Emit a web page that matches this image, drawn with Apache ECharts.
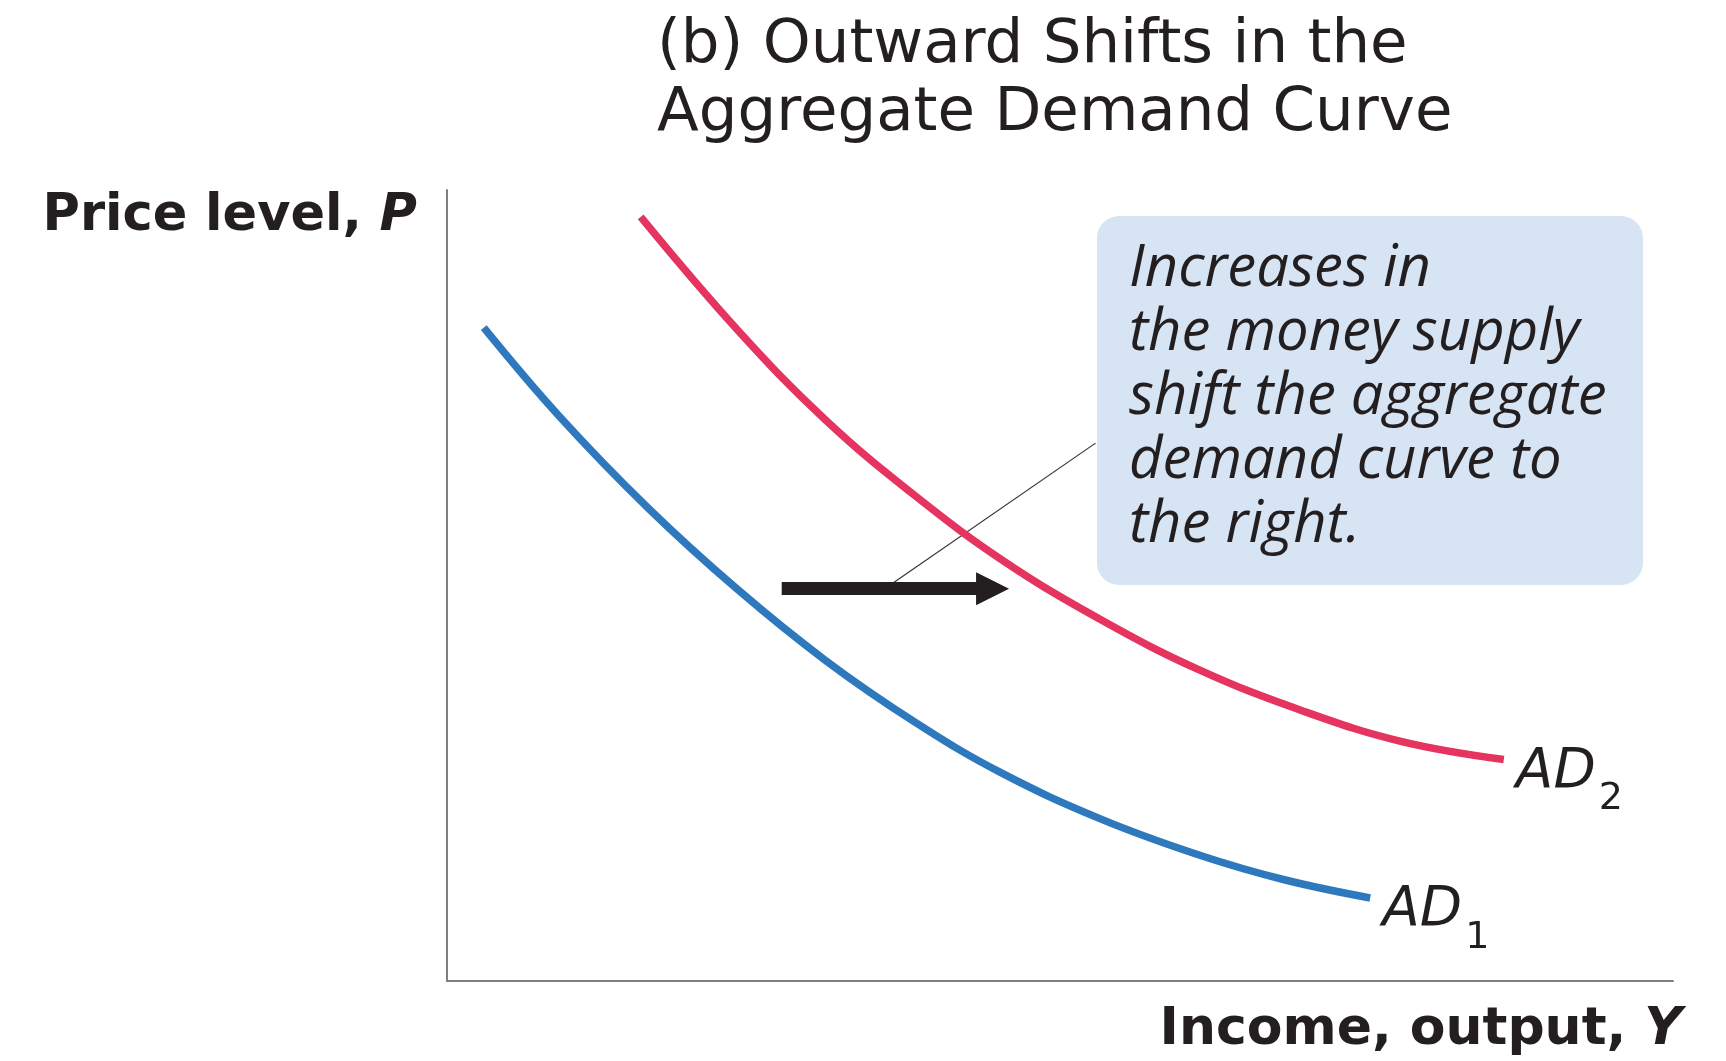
<!DOCTYPE html>
<html>
<head>
  <meta charset="UTF-8">
  <title>Outward Shifts in the Aggregate Demand Curve</title>
  <script src="https://cdn.jsdelivr.net/npm/echarts@6/dist/echarts.min.js"></script>
  <style>
    html, body { margin: 0; padding: 0; background: #fff; }
    #main { width: 1726px; height: 1061px; }
  </style>
</head>
<body>
<div id="main"></div>
<script>
  // AD1 (blue) - income Y and price level P, axes run 0..100
  var ad1Y = [3.0, 9.1, 16.4, 23.7, 30.9, 38.2, 45.1, 53.3, 61.4, 68.3, 75.3];
  var ad1P = [82.6, 71.5, 59.8, 49.5, 40.5, 32.7, 26.4, 20.5, 15.9, 12.8, 10.5];

  // AD2 (red) - after the increase in the money supply
  var ad2Y = [15.8, 23.7, 30.9, 38.3, 45.5, 53.3, 61.4, 69.7, 77.8, 86.2];
  var ad2P = [96.6, 82.3, 70.9, 61.2, 53.0, 45.7, 39.3, 34.2, 30.3, 28.0];

  // shift arrow and the thin leader line to the note
  var shiftArrow = [[27.3, 49.6], [44.5, 49.6]];
  var leaderLine = [[35.7, 49.6], [52.9, 68.0]];

  var noteLines = ['Increases in', 'the money supply', 'shift the aggregate', 'demand curve to', 'the right.'];

  function pairs(xs, ys) {
    var out = [];
    for (var i = 0; i < xs.length; i++) out.push([xs[i], ys[i]]);
    return out;
  }

  var SANS = '"DejaVu Sans", "Open Sans", sans-serif';
  var ITAL = '"Open Sans", "DejaVu Sans", sans-serif';

  function adLabel(sub) {
    return {
      show: true,
      formatter: 'AD{s|' + sub + '}',
      offset: [4, 13],
      fontFamily: SANS,
      fontStyle: 'italic',
      fontSize: 55,
      color: '#231f20',
      rich: {
        s: { fontFamily: SANS, fontStyle: 'normal', fontSize: 38, lineHeight: 38, padding: [54, 0, 0, 3], color: '#231f20' }
      }
    };
  }

  var myChart = echarts.init(document.getElementById('main'));

  var option = {
    animation: false,
    backgroundColor: '#ffffff',
    title: {
      text: '(b) Outward Shifts in the\nAggregate Demand Curve',
      left: 657,
      top: 12,
      padding: 0,
      textStyle: { fontFamily: SANS, fontSize: 61, fontWeight: 'normal', lineHeight: 68, color: '#231f20' }
    },
    grid: { left: 447, right: 53, top: 190, bottom: 80 },
    xAxis: {
      type: 'value', min: 0, max: 100,
      name: 'Income, output, {i|Y}',
      nameLocation: 'end',
      nameGap: 9,
      nameTextStyle: {
        fontFamily: SANS, fontSize: 52, fontWeight: 'bold', color: '#231f20',
        align: 'right', verticalAlign: 'top', lineHeight: 54, padding: [22, 0, 0, 0],
        rich: { i: { fontFamily: SANS, fontSize: 52, fontWeight: 'bold', fontStyle: 'italic', color: '#231f20' } }
      },
      axisLine: { lineStyle: { color: '#808080', width: 2 } },
      axisTick: { show: false }, axisLabel: { show: false }, splitLine: { show: false }
    },
    yAxis: {
      type: 'value', min: 0, max: 100,
      name: 'Price level, {i|P}',
      nameLocation: 'end',
      nameGap: 0,
      nameTextStyle: {
        fontFamily: SANS, fontSize: 51, fontWeight: 'bold', color: '#231f20',
        align: 'right', verticalAlign: 'top', lineHeight: 54, padding: [0, 30, 0, 0],
        rich: { i: { fontFamily: SANS, fontSize: 51, fontWeight: 'bold', fontStyle: 'italic', color: '#231f20' } }
      },
      axisLine: { show: true, lineStyle: { color: '#808080', width: 2 } },
      axisTick: { show: false }, axisLabel: { show: false }, splitLine: { show: false }
    },
    series: [
      {
        name: 'AD1', type: 'line', smooth: 0.4, symbol: 'none',
        data: pairs(ad1Y, ad1P),
        lineStyle: { color: '#2e79bd', width: 7.5 },
        endLabel: adLabel(1)
      },
      {
        name: 'AD2', type: 'line', smooth: 0.4, symbol: 'none',
        data: pairs(ad2Y, ad2P),
        lineStyle: { color: '#e4345f', width: 7.5 },
        endLabel: adLabel(2)
      },
      {
        name: 'leader', type: 'lines', coordinateSystem: 'cartesian2d', z: 1,
        symbol: 'none',
        lineStyle: { color: '#333333', width: 1.2, opacity: 1 },
        data: [{ coords: leaderLine }]
      },
      {
        name: 'shift', type: 'lines', coordinateSystem: 'cartesian2d', z: 3,
        symbol: ['none', 'triangle'], symbolSize: 33,
        lineStyle: { color: '#231f20', width: 13, opacity: 1 },
        itemStyle: { color: '#231f20' },
        data: [{ coords: shiftArrow }]
      }
    ],
    graphic: [
      {
        type: 'group', left: 1097, top: 216, z: 0,
        children: [
          { type: 'rect', shape: { x: 0, y: 0, width: 546, height: 369, r: 22 }, style: { fill: '#d7e4f3' } },
          {
            type: 'text', x: 32, y: 21,
            style: {
              text: noteLines.join('\n'),
              font: 'italic 500 58px ' + ITAL,
              lineHeight: 64,
              fill: '#231f20'
            }
          }
        ]
      }
    ]
  };

  myChart.setOption(option);
</script>
</body>
</html>
